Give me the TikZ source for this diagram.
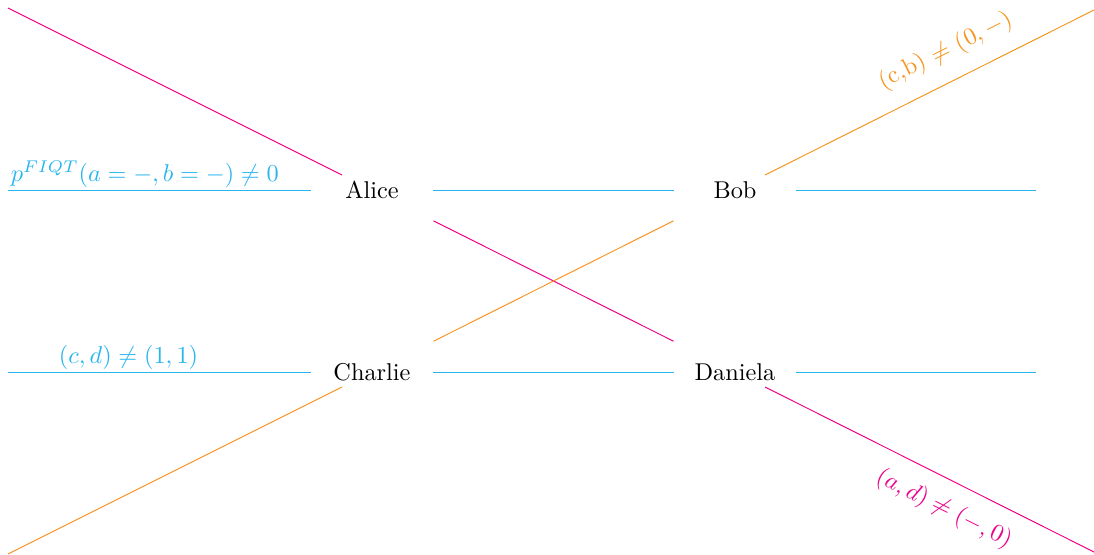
\documentclass[tikz,border=0pt]{standalone}
\usetikzlibrary{calc}
\definecolor{lcyan}{HTML}{29B6EE}
\definecolor{lmag}{HTML}{EC008C}
\definecolor{lorange}{HTML}{F7941D}
\begin{document}
\begin{tikzpicture}[x=0.4115pt,y=-0.4115pt,
  party/.style={minimum width=50.2pt,minimum height=26pt,inner sep=0pt},
  cline/.style={lcyan,line width=0.4pt},
  mline/.style={lmag,line width=0.4pt},
  oline/.style={lorange,line width=0.4pt}]
\useasboundingbox (0,0) rectangle (1094,554);
\node[party] (Alice) at (372,190) {Alice};
\node[party] (Bob) at (735,190) {Bob};
\node[party] (Charlie) at (372,372) {Charlie};
\node[party] (Daniela) at (735,372) {Daniela};
\coordinate (lA) at (8,190);
\coordinate (rB) at (1036,190);
\coordinate (lC) at (8,372);
\coordinate (rD) at (1036,372);
\coordinate (tl) at (8,8);
\coordinate (br) at (1100,555);
\coordinate (tr) at (1100,7);
\coordinate (bl) at (8,554);
\coordinate (aIn) at ($(Alice.center)+(-30,-15)$);
\coordinate (dOut) at ($(Daniela.center)+(30,15)$);
\coordinate (bOut) at ($(Bob.center)+(30,-15)$);
\coordinate (cOut) at ($(Charlie.center)+(-30,15)$);
% cyan
\draw[cline] (lA) -- (Alice);
\draw[cline] (Alice) -- (Bob);
\draw[cline] (Bob) -- (rB);
\draw[cline] (lC) -- (Charlie);
\draw[cline] (Charlie) -- (Daniela);
\draw[cline] (Daniela) -- (rD);
% magenta
\draw[mline] (tl) -- (aIn);
\draw[mline] (Alice) -- (Daniela);
\draw[mline] (dOut) -- (br);
% orange
\draw[oline] (tr) -- (bOut);
\draw[oline] (Bob) -- (Charlie);
\draw[oline] (cOut) -- (bl);
% labels
\node[lcyan,anchor=south west,inner sep=1pt] (l1) at (lA) {$p^{FIQT}(a=-,b=-)\neq 0$};
\node[lcyan,anchor=south,inner sep=1pt] (l2) at (128.5,372) {$(c,d)\neq(1,1)$};
\node[lorange,rotate=26.57] (l3) at (946,51) {(c,b) $\neq$ (0,\,$-$)};
\node[lmag,rotate=-26.57] (l4) at (944,509) {$(a,d)\neq(-,0)$};
\end{tikzpicture}
\end{document}
